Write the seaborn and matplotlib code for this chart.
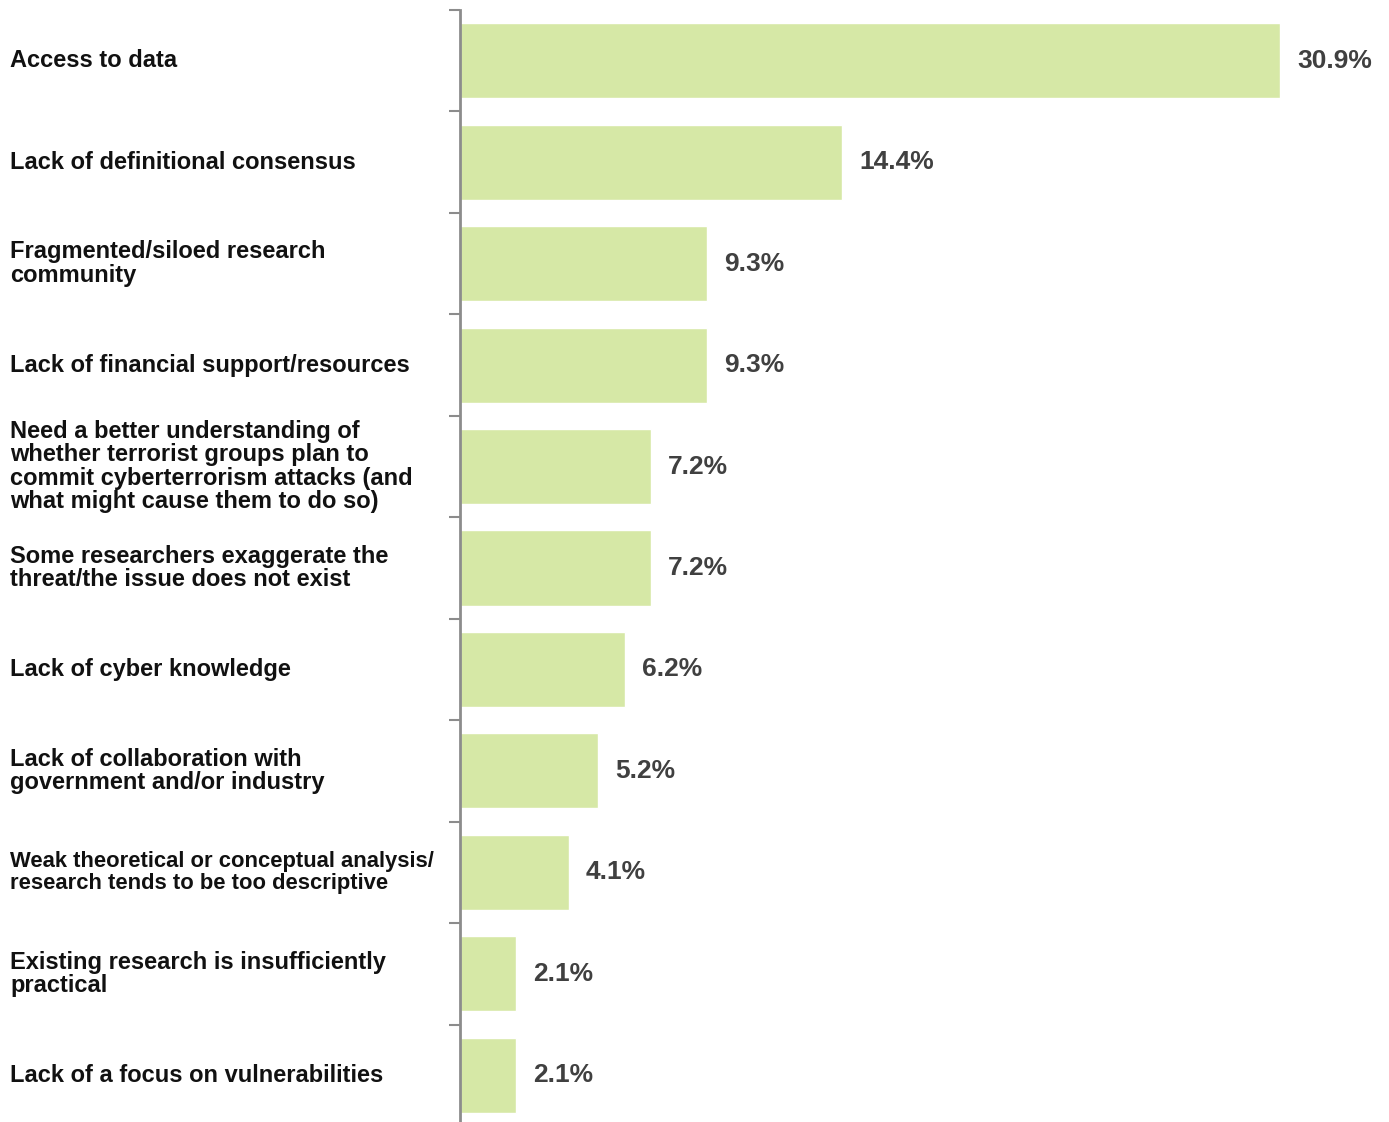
import matplotlib
matplotlib.use("Agg")
import matplotlib.pyplot as plt
import matplotlib.transforms as mtransforms
import seaborn as sns
import pandas as pd
import numpy as np

categories = [
    "Access to data",
    "Lack of definitional consensus",
    "Fragmented/siloed research\ncommunity",
    "Lack of financial support/resources",
    "Need a better understanding of\nwhether terrorist groups plan to\ncommit cyberterrorism attacks (and\nwhat might cause them to do so)",
    "Some researchers exaggerate the\nthreat/the issue does not exist",
    "Lack of cyber knowledge",
    "Lack of collaboration with\ngovernment and/or industry",
    "Weak theoretical or conceptual analysis/\nresearch tends to be too descriptive",
    "Existing research is insufficiently\npractical",
    "Lack of a focus on vulnerabilities",
]
values = [30.9, 14.4, 9.3, 9.3, 7.2, 7.2, 6.2, 5.2, 4.1, 2.1, 2.1]
value_labels = ["30.9%", "14.4%", "9.3%", "9.3%", "7.2%", "7.2%", "6.2%", "5.2%", "4.1%", "2.1%", "2.1%"]

df = pd.DataFrame({"category": categories, "value": values})

sns.set_theme(style="white")
plt.rcParams["font.family"] = ["Liberation Sans", "DejaVu Sans"]

W, H = 1389, 1122
fig = plt.figure(figsize=(W / 100, H / 100), dpi=100)
ax_left = 460 / W
ax_top = 10 / H
ax_bottom = 1126 / H
ax_right = 1280 / W
ax = fig.add_axes([ax_left, 1 - ax_bottom, ax_right - ax_left, ax_bottom - ax_top])

sns.barplot(data=df, y="category", x="value", orient="h", color="#d6e8a6",
            saturation=1, width=0.74, ax=ax)

n = len(categories)
ax.set_xlim(0, 30.9)
ax.set_ylim(n - 0.5, -0.5)
ax.set_xlabel("")
ax.set_ylabel("")
ax.set_xticks([])
ax.set_yticks([])
ax.set_yticks(np.arange(-0.5, n - 0.5, 1.0), minor=True)
ax.tick_params(axis="y", which="minor", length=8, width=1.5, color="#8c8c8c", left=True)
for s in ["top", "right", "bottom"]:
    ax.spines[s].set_visible(False)
ax.spines["left"].set_color("#8c8c8c")
ax.spines["left"].set_linewidth(2)

# category labels, left-aligned at the figure edge
label_tf = mtransforms.blended_transform_factory(fig.transFigure, ax.transData)
for i, cat in enumerate(categories):
    size = 15.8 if cat.startswith("Weak") else 17
    ax.text(10 / W, i, cat, transform=label_tf,
            ha="left", va="center", fontsize=size, fontweight="bold", color="#111111",
            linespacing=1.03)

# value labels at the bar ends
for i, (v, lab) in enumerate(zip(values, value_labels)):
    ax.annotate(lab, xy=(v, i), xytext=(17, 0), textcoords="offset pixels",
                ha="left", va="center", fontsize=19, fontweight="bold",
                color="#404040", annotation_clip=False)

fig.savefig("out.png", dpi=100)
